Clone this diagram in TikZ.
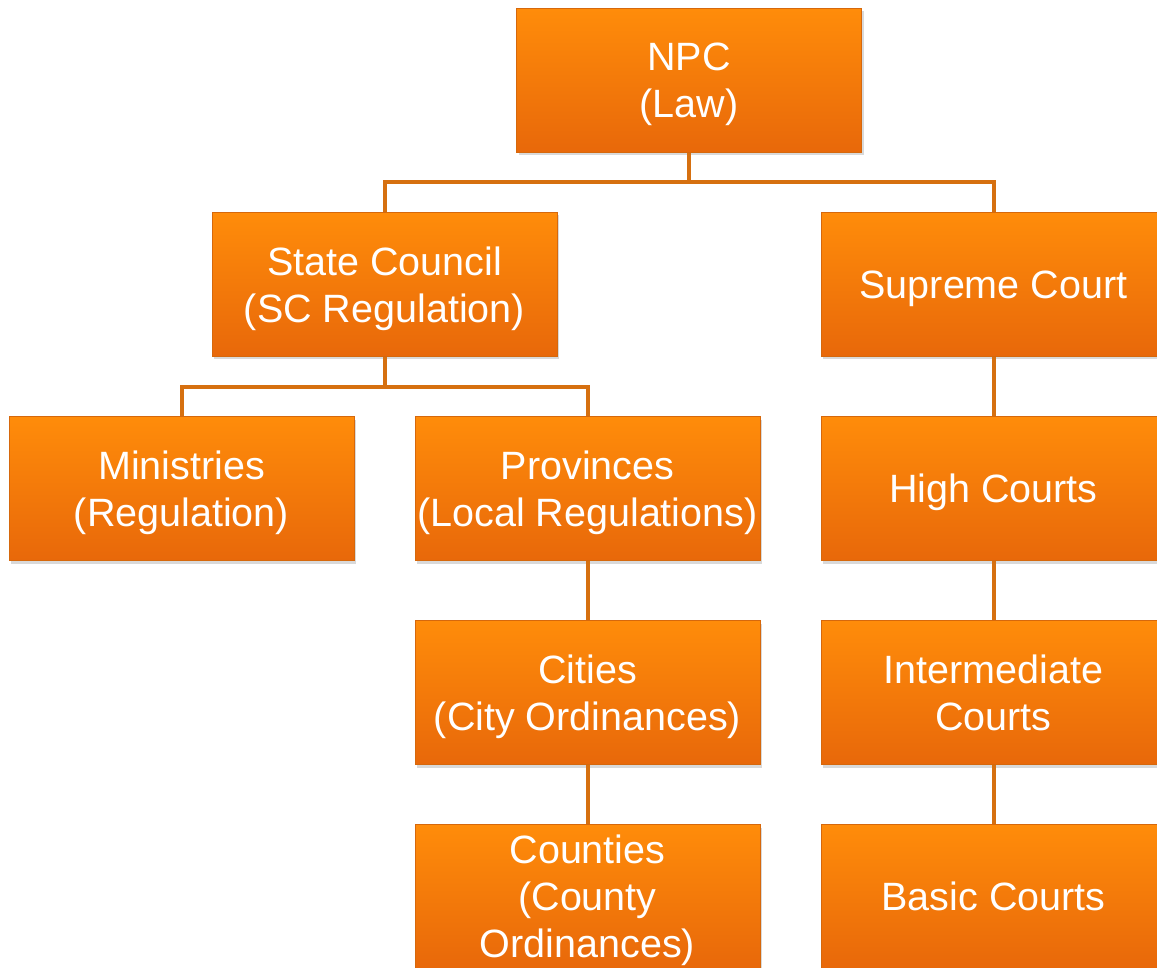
\documentclass[tikz,border=0pt]{standalone}
\usepackage{fontspec}
\setmainfont{Liberation Sans}
\usetikzlibrary{shadows}
\definecolor{boxtop}{RGB}{255,140,10}
\definecolor{boxbottom}{RGB}{232,104,10}
\definecolor{boxedge}{RGB}{214,104,12}
\definecolor{linkline}{RGB}{214,112,16}

\begin{document}
\begin{tikzpicture}[level distance=102pt,
      every node/.append style={font=\fontsize{19.75}{23.5}\selectfont,text=white,align=center},
      level 1/.style={sibling distance=304.5pt},
      level 2/.style={sibling distance=203pt},
      edge from parent/.style={draw=linkline,line width=2pt},
      edge from parent path={(\tikzparentnode.south) -- ++(0,-14.75pt) -| (\tikzchildnode.north)}]
    \tikzstyle{office} = [rectangle,minimum width=172.5pt,minimum height=72pt,inner sep=0pt,
      text depth=-0.8pt,
      top color=boxtop,bottom color=boxbottom,draw=boxedge,line width=0.5pt,
      drop shadow={opacity=0.3,shadow xshift=1pt,shadow yshift=-1.5pt}]
    \useasboundingbox (0,0) rectangle (578.5pt,-484pt);
    \node (NPC) [office] at (344.5pt,-40.25pt) {NPC\\(Law)}
      child {node (SC) [office] {State Council\\(SC Regulation)}
      {
        child {node (ministries) [office] {Ministries\\(Regulation)}}
        child {node (provinces) [office] {Provinces\\(Local Regulations)}
        {
          child {node (cities) [office] {Cities\\(City Ordinances)}
          {
            child {node (counties) [office] {Counties\\(County\\Ordinances)}}
          }}
        }}
      }}
      child {node (supreme) [office] {Supreme Court}
      {
        child {node (high) [office] {High Courts}
        {
          child {node (intermediate) [office] {Intermediate\\Courts}
          {
            child {node (basic) [office] {Basic Courts}}
          }}
        }}
      }};
\end{tikzpicture}
\end{document}
